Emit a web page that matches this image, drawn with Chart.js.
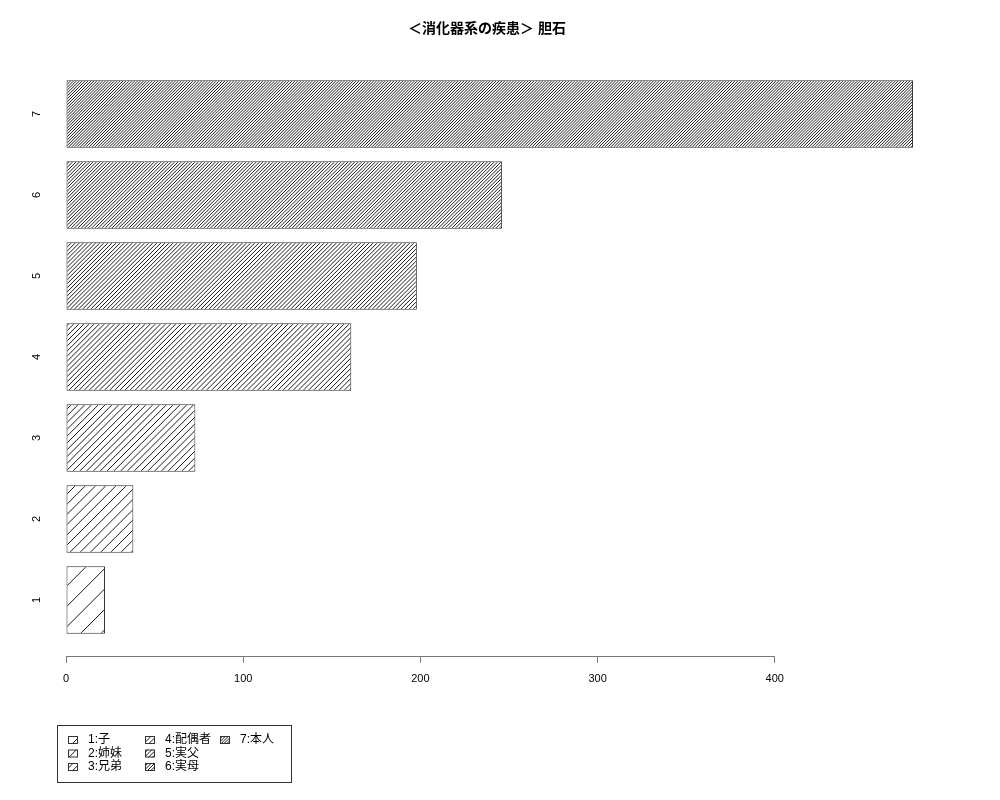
<!DOCTYPE html>
<html lang="ja">
<head>
<meta charset="UTF-8">
<title>胆石</title>
<script src="https://cdn.jsdelivr.net/npm/chart.js"></script>
<style>
  body { margin: 0; background: #fff; }
  #wrap { width: 1000px; height: 800px; }
</style>
</head>
<body>
<div id="wrap"><canvas id="grafico" width="1000" height="800"></canvas></div>
<script>
// dados do grafico
const categorias = ['1', '2', '3', '4', '5', '6', '7'];
const posicoes = [1, 2, 3, 4, 5, 6, 7];
const valores = [22, 38, 73, 161, 198, 246, 478];
const densidades = [5, 10, 15, 20, 25, 30, 35];
const ticksX = [0, 100, 200, 300, 400];
const legendaLabels = ['1:子', '2:姉妹', '3:兄弟', '4:配偶者', '5:実父', '6:実母', '7:本人'];
const titulo = '＜消化器系の疾患＞ 胆石';

const fonte = '"Liberation Sans", "Noto Sans CJK JP", sans-serif';

// hachura diagonal tipo R (density = linhas por polegada)
function hachura(dens) {
  var T = 102;
  var c = document.createElement('canvas');
  c.width = T; c.height = T;
  var g = c.getContext('2d');
  g.fillStyle = '#fff';
  g.fillRect(0, 0, T, T);
  g.strokeStyle = '#000';
  g.lineWidth = 0.9;
  var passo = T / dens;
  g.beginPath();
  for (var i = 0; i <= 2 * dens; i++) {
    var k = i * passo;
    g.moveTo(k + 2, -2);
    g.lineTo(-2, k + 2);
  }
  g.stroke();
  var ctx = document.getElementById('grafico').getContext('2d');
  return ctx.createPattern(c, 'repeat');
}

var padroes = densidades.map(hachura);

var dados = posicoes.map(function (p, i) { return { x: valores[i], y: p }; });

var extras = {
  id: 'extras',
  afterDraw: function (chart) {
    var ctx = chart.ctx;
    var sx = chart.scales.x, sy = chart.scales.y;
    var area = chart.chartArea;
    ctx.save();

    // titulo
    ctx.fillStyle = '#000';
    ctx.font = 'bold 14px ' + fonte;
    ctx.textAlign = 'center';
    ctx.textBaseline = 'middle';
    ctx.fillText(titulo, 487, 29);

    // linha do eixo x (0 a 400)
    ctx.strokeStyle = '#777';
    ctx.lineWidth = 1;
    ctx.beginPath();
    ctx.moveTo(sx.getPixelForValue(ticksX[0]), Math.round(area.bottom) + 0.5);
    ctx.lineTo(sx.getPixelForValue(ticksX[ticksX.length - 1]), Math.round(area.bottom) + 0.5);
    ctx.stroke();

    // rotulos do eixo y, girados
    ctx.font = '11px ' + fonte;
    ctx.fillStyle = '#000';
    for (var i = 0; i < categorias.length; i++) {
      var py = sy.getPixelForValue(posicoes[i]);
      ctx.save();
      ctx.translate(37, py);
      ctx.rotate(-Math.PI / 2);
      ctx.textAlign = 'center';
      ctx.textBaseline = 'middle';
      ctx.fillText(categorias[i], 0, 0);
      ctx.restore();
    }

    // legenda
    ctx.strokeStyle = '#333';
    ctx.strokeRect(57.5, 725.5, 234, 57);
    var colX = [68, 145, 220];
    var linY = [740, 753.5, 767];
    ctx.font = '12px ' + fonte;
    ctx.textAlign = 'left';
    ctx.textBaseline = 'middle';
    for (var j = 0; j < legendaLabels.length; j++) {
      var cx = colX[Math.floor(j / 3)];
      var cy = linY[j % 3];
      ctx.fillStyle = padroes[j];
      ctx.fillRect(cx, cy - 4, 10, 8);
      ctx.strokeStyle = '#333';
      ctx.strokeRect(cx + 0.5, cy - 3.5, 9, 7);
      ctx.fillStyle = '#000';
      ctx.fillText(legendaLabels[j], cx + 20, cy);
    }
    ctx.restore();
  }
};

new Chart(document.getElementById('grafico'), {
  type: 'bar',
  data: {
    datasets: [{
      label: '胆石',
      data: dados,
      backgroundColor: padroes,
      borderColor: '#333',
      borderWidth: 1,
      borderSkipped: false,
      categoryPercentage: 1,
      barPercentage: 0.833
    }]
  },
  options: {
    indexAxis: 'y',
    responsive: false,
    animation: false,
    devicePixelRatio: 1,
    layout: { padding: { left: 66, right: 48, top: 58, bottom: 104 } },
    plugins: {
      legend: { display: false },
      tooltip: { enabled: false }
    },
    scales: {
      x: {
        type: 'linear',
        min: 0,
        max: 500,
        border: { display: false },
        grid: { drawOnChartArea: false, drawTicks: true, tickLength: 7, color: '#777' },
        ticks: { stepSize: 100, padding: 10, color: '#000', font: { size: 11, family: fonte } },
        afterBuildTicks: function (s) {
          s.ticks = ticksX.map(function (v) { return { value: v }; });
        }
      },
      y: {
        type: 'linear',
        min: 0.31,
        max: 7.69,
        offset: false,
        display: false,
        afterBuildTicks: function (s) {
          s.ticks = posicoes.map(function (v) { return { value: v }; });
        }
      }
    }
  },
  plugins: [extras]
});
</script>
</body>
</html>
